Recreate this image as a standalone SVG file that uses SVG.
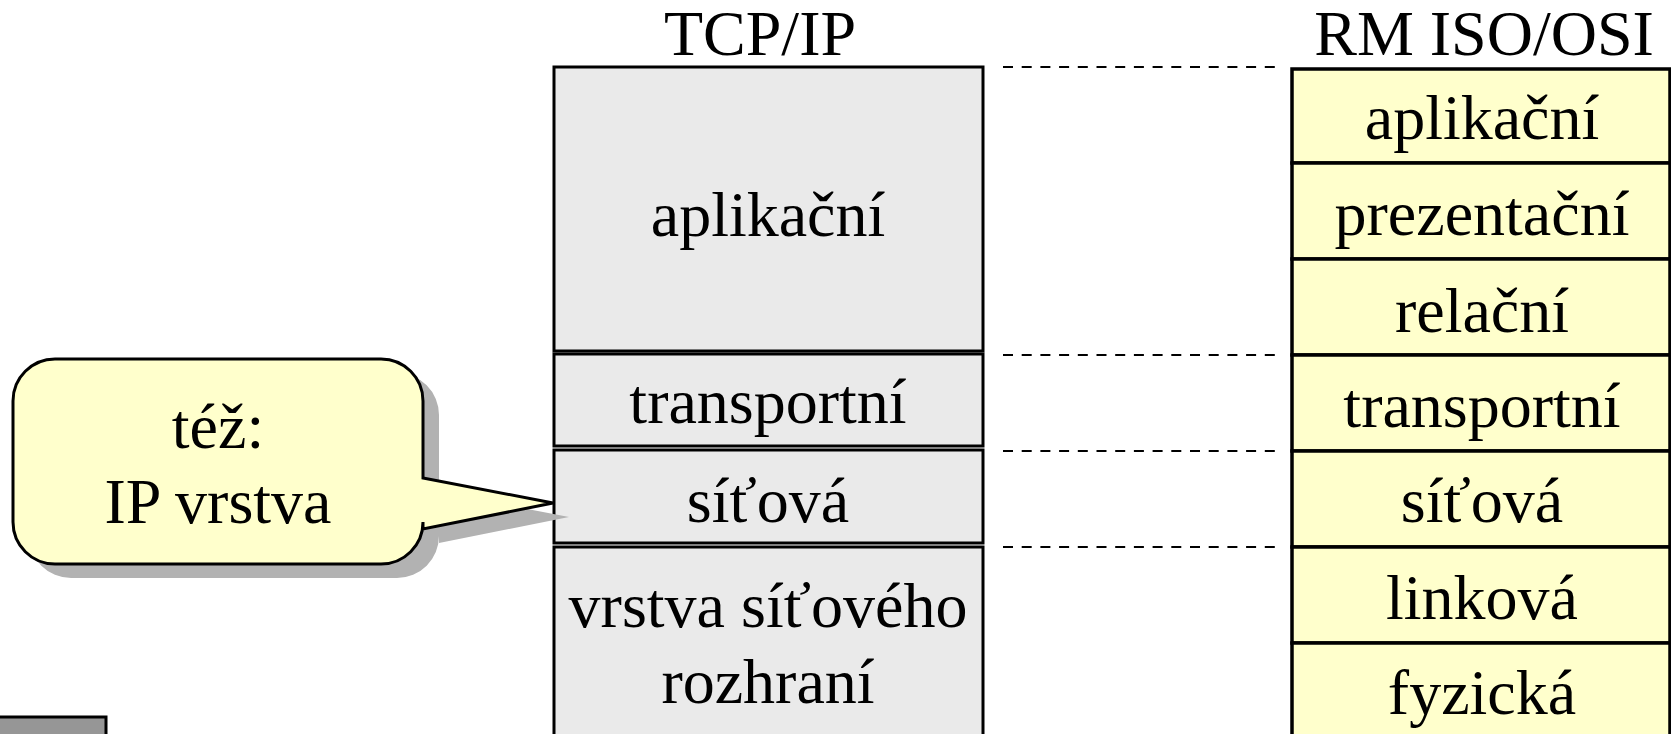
<svg xmlns="http://www.w3.org/2000/svg" width="1671" height="734" viewBox="0 0 1671 734">
<defs>
<style>
text{font-family:"Liberation Serif","Times New Roman",serif;font-size:64px;fill:#000;text-anchor:middle}
.tcp{fill:#EAEAEA;stroke:#000;stroke-width:3}
.osi{fill:#FFFFCC;stroke:#000;stroke-width:3.5}
.dash{stroke:#000;stroke-width:2;stroke-dasharray:10 8.7;fill:none}
</style>
</defs>
<rect width="1671" height="734" fill="#fff"/>
<text x="760" y="55">TCP/IP</text>
<text x="1484" y="55">RM ISO/OSI</text>
<g id="tcp-aplikacni"><rect class="tcp" x="554" y="67" width="429" height="284"/><text x="768" y="236">aplikační</text></g>
<g id="tcp-transportni"><rect class="tcp" x="554" y="354" width="429" height="92"/><text x="768" y="423">transportní</text></g>
<g id="tcp-sitova"><rect class="tcp" x="554" y="450" width="429" height="93"/><text x="768" y="522">síťová</text></g>
<g id="tcp-rozhrani"><rect class="tcp" x="554" y="547" width="429" height="200"/><text x="768" y="627">vrstva síťového</text><text x="768" y="703">rozhraní</text></g>
<g id="osi-aplikacni"><rect class="osi" x="1292" y="69" width="378" height="94"/><text x="1482" y="139">aplikační</text></g>
<g id="osi-prezentacni"><rect class="osi" x="1292" y="163" width="378" height="96"/><text x="1482" y="235">prezentační</text></g>
<g id="osi-relacni"><rect class="osi" x="1292" y="259" width="378" height="96"/><text x="1482" y="332">relační</text></g>
<g id="osi-transportni"><rect class="osi" x="1292" y="355" width="378" height="96"/><text x="1482" y="427">transportní</text></g>
<g id="osi-sitova"><rect class="osi" x="1292" y="451" width="378" height="96"/><text x="1482" y="522">síťová</text></g>
<g id="osi-linkova"><rect class="osi" x="1292" y="547" width="378" height="96"/><text x="1482" y="619">linková</text></g>
<g id="osi-fyzicka"><rect class="osi" x="1292" y="643" width="378" height="100"/><text x="1482" y="714">fyzická</text></g>
<g id="connectors">
<line class="dash" x1="1003" y1="67" x2="1275" y2="67"/>
<line class="dash" x1="1003" y1="355" x2="1275" y2="355"/>
<line class="dash" x1="1003" y1="451" x2="1275" y2="451"/>
<line class="dash" x1="1003" y1="547" x2="1275" y2="547"/>
</g>
<g id="callout">
<path transform="translate(16,14)" fill="#B2B2B2" d="M55 359H381A42 42 0 0 1 423 401V478L553 503L423 529V522A42 42 0 0 1 381 564H55A42 42 0 0 1 13 522V401A42 42 0 0 1 55 359Z"/>
<path fill="#FFFFCC" stroke="#000" stroke-width="3" stroke-linejoin="miter" d="M55 359H381A42 42 0 0 1 423 401V478L553 503L423 529V522A42 42 0 0 1 381 564H55A42 42 0 0 1 13 522V401A42 42 0 0 1 55 359Z"/>
<text x="218" y="448">též:</text>
<text x="218" y="523">IP vrstva</text>
</g>
<g id="gray-box"><rect x="-3" y="717" width="109" height="30" fill="#969696" stroke="#000" stroke-width="3"/></g>
</svg>
